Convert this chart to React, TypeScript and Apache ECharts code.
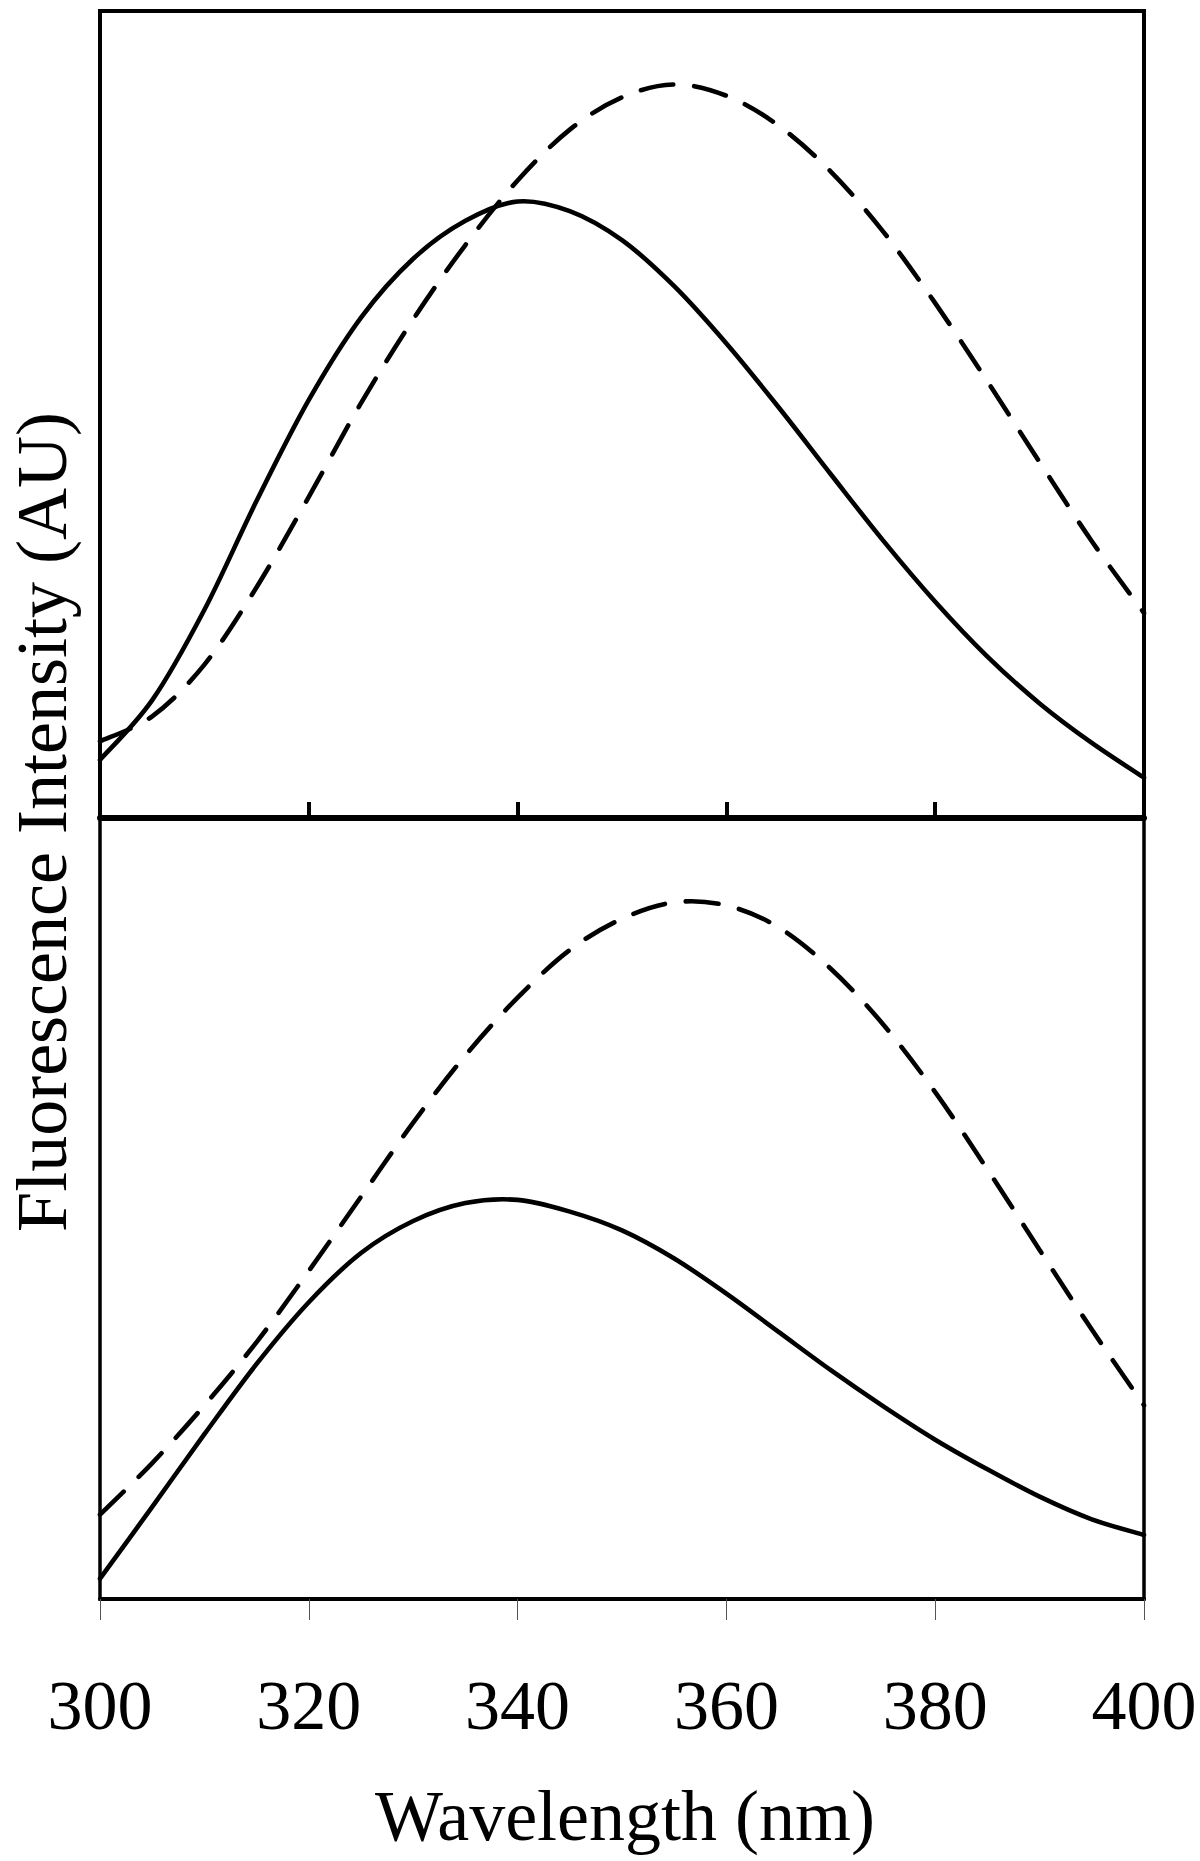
import React, { useEffect, useRef } from "react";
import * as echarts from "echarts";

const wavelengths = [300, 305, 310, 315, 320, 325, 330, 335, 340, 345, 350, 355, 360, 365, 370, 375, 380, 385, 390, 395, 400];
const topSolid = [7.2, 14.6, 25.8, 39.3, 51.8, 62.0, 69.3, 74.0, 76.4, 75.2, 71.6, 65.9, 58.8, 50.9, 42.6, 34.4, 26.8, 20.0, 14.2, 9.3, 5.0];
const topDashed = [9.5, 12.6, 19.0, 28.6, 39.8, 51.4, 61.8, 71.0, 79.0, 85.3, 89.3, 90.9, 89.5, 85.8, 80.1, 72.7, 63.8, 54.1, 44.1, 34.3, 25.4];
const bottomSolid = [2.6, 11.8, 21.1, 30.1, 38.0, 44.3, 48.4, 50.7, 51.1, 49.6, 47.2, 43.6, 39.1, 34.2, 29.3, 24.7, 20.4, 16.6, 13.1, 10.2, 8.2];
const bottomDashed = [10.8, 17.4, 24.8, 32.9, 42.0, 51.5, 61.0, 69.6, 77.0, 83.1, 87.1, 89.2, 88.8, 86.0, 80.7, 73.6, 64.9, 55.0, 44.7, 34.5, 24.8];
const xMin = 300;
const xMax = 400;
const xStep = 20;
const yTitle = "Fluorescence Intensity (AU)";
const xTitle = "Wavelength (nm)";

export default function App() {
  const ref = useRef<HTMLDivElement>(null);
  useEffect(() => {
    document.body.style.margin = "0";
    const chart = echarts.init(ref.current as HTMLDivElement, null, { renderer: "svg" });
    const font = '"Liberation Serif", "Times New Roman", serif';
    const pair = (ys: number[]) => wavelengths.map((x, i) => [x, ys[i]]);

    // Smooth curve through the data points, positioned by the axes via api.coord
    const curve = (ys: number[], axis: number, dash: number[] | null) => ({
      type: "custom",
      xAxisIndex: axis,
      yAxisIndex: axis,
      data: pair(ys),
      encode: { x: 0, y: 1 },
      silent: true,
      renderItem: (params: any, api: any) => {
        if (params.dataIndex !== 0) return null;
        const pts = wavelengths.map((x, i) => api.coord([x, ys[i]]));
        let d = `M${pts[0][0]},${pts[0][1]}`;
        for (let i = 0; i < pts.length - 1; i++) {
          const p0 = pts[Math.max(i - 1, 0)];
          const p1 = pts[i];
          const p2 = pts[i + 1];
          const p3 = pts[Math.min(i + 2, pts.length - 1)];
          const c1x = p1[0] + (p2[0] - p0[0]) / 6;
          const c1y = p1[1] + (p2[1] - p0[1]) / 6;
          const c2x = p2[0] - (p3[0] - p1[0]) / 6;
          const c2y = p2[1] - (p3[1] - p1[1]) / 6;
          d += ` C${c1x},${c1y} ${c2x},${c2y} ${p2[0]},${p2[1]}`;
        }
        return {
          type: "path",
          shape: { pathData: d },
          style: { fill: "none", stroke: "#000", lineWidth: 4.6, lineDash: dash, lineCap: "round" },
        };
      },
    });

    chart.setOption({
      animation: false,
      backgroundColor: "#fff",
      grid: [
        { left: 100, top: 11, width: 1044, height: 807, show: true, borderColor: "#000", borderWidth: 4 },
        { left: 100, top: 818, width: 1044, height: 781, show: true, borderColor: "#000", borderWidth: 3.5 },
      ],
      xAxis: [
        {
          gridIndex: 0, type: "value", min: xMin, max: xMax, interval: xStep,
          axisLine: { show: true, lineStyle: { color: "#000", width: 6 } },
          axisTick: { show: true, inside: true, length: 16, lineStyle: { color: "#000", width: 4 } },
          axisLabel: { show: false }, splitLine: { show: false },
        },
        {
          gridIndex: 1, type: "value", min: xMin, max: xMax, interval: xStep,
          axisLine: { show: true, lineStyle: { color: "#000", width: 4 } },
          axisTick: { show: true, length: 21, lineStyle: { color: "#555", width: 1 } },
          axisLabel: { fontFamily: font, fontSize: 70, color: "#000", margin: 71 },
          splitLine: { show: false },
        },
      ],
      yAxis: [
        { gridIndex: 0, type: "value", min: 0, max: 100, show: false },
        { gridIndex: 1, type: "value", min: 0, max: 100, show: false },
      ],
      series: [
        curve(topSolid, 0, null),
        curve(topDashed, 0, [33, 21]),
        curve(bottomSolid, 1, null),
        curve(bottomDashed, 1, [33, 21]),
      ],
      graphic: [
        {
          type: "text", x: 42, y: 822, rotation: Math.PI / 2,
          style: { text: yTitle, fontSize: 72, lineHeight: 72, fontFamily: font, fill: "#000", align: "center", verticalAlign: "middle" },
        },
        {
          type: "text", x: 625, y: 1816,
          style: { text: xTitle, fontSize: 72, fontFamily: font, fill: "#000", align: "center", verticalAlign: "middle" },
        },
      ],
    });
    return () => chart.dispose();
  }, []);
  return <div ref={ref} style={{ width: 1200, height: 1861 }} />;
}
